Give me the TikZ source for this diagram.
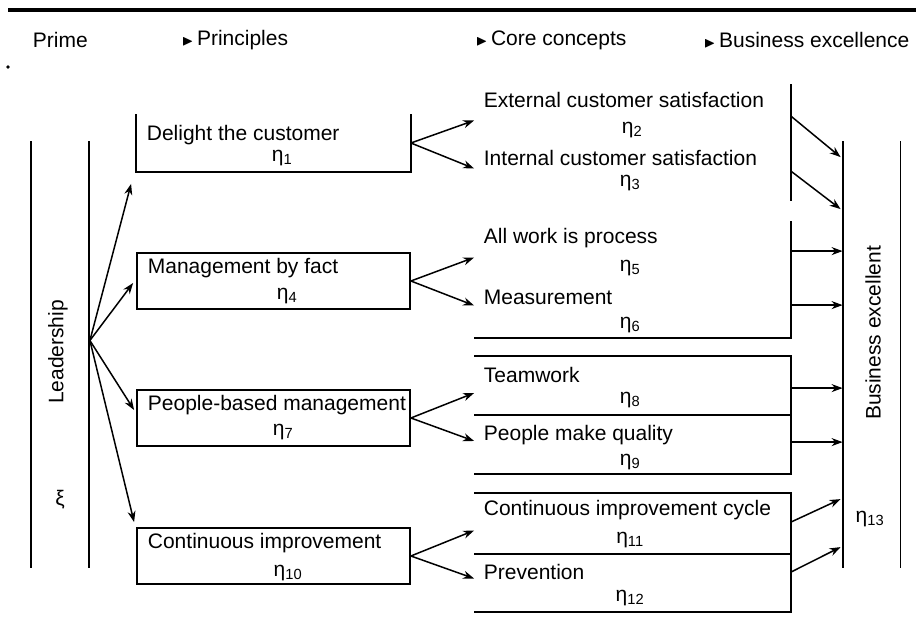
\documentclass[tikz,border=0pt]{standalone}
\usepackage{amssymb}
\usepackage{fontspec}
\setmainfont{Liberation Sans}
\usetikzlibrary{
  arrows.meta,
  positioning,
  calc
}
\newcommand{\etaidx}[1]{η\textsubscript{#1}}
\newcommand{\hdbullet}{{\fontsize{15}{15}\selectfont$\blacktriangleright$}\,}

\begin{document}
\begin{tikzpicture}[
  x=1pt,
  y=-1pt,
  line width=1.8pt,
  font=\fontsize{21}{24}\selectfont,
  mybox/.style={
    minimum width=273pt,
    minimum height=56pt,
    inner sep=0pt
    },
  mygroup/.style={
    minimum width=315pt,
    minimum height=#1,
    inner sep=0pt
    },
  mycolumn/.style={
    minimum width=56pt,
    minimum height=425pt,
    inner sep=0pt
    },
  mytext/.style={
    anchor=west,
    inner sep=0pt
    },
  mylabel/.style={
    inner sep=0pt
    },
  myarrow/.style={
    -{Stealth[length=11pt,width=8pt]},
    line width=1.5pt
    }
]
\useasboundingbox (0,0) rectangle (916,631);
\draw[line width=4pt] (8,10) -- (916,10);
\fill (8,67) circle (1.8pt);

% headings
\node[mytext] (hd-prime) at (32,40) {Prime};
\node[mytext] (hd-princ) at (181,40) {\hdbullet Principles};
\node[mytext] (hd-core) at (475,40) {\hdbullet Core concepts};
\node[mytext] (hd-bex) at (703,40) {\hdbullet Business excellence};

% leadership and business excellence
\node[mycolumn] (lead) at (60,354.5) {};
\draw (lead.north west) -- (lead.south west);
\draw (lead.north east) -- (lead.south east);
\node[mylabel,rotate=90] (lead-t) at (58,352) {Leadership};
\node[mylabel] (lead-xi) at (60,500) {ξ};

\node[mycolumn] (bex) at (871.5,354.5) {};
\draw (bex.north west) -- (bex.south west);
\draw (bex.north east) -- (bex.south east);
\node[mylabel,rotate=90] (bex-t) at (873,333) {Business excellent};
\node[mylabel] (bex-eta) at (870,519) {\etaidx{13}};

% principles
\node[mybox] (delight) at (273.5,143) {};
\draw (delight.north west) -- (delight.south west) -- (delight.south east) -- (delight.north east);
\node[mybox,draw] (mgmt) at (273.5,281) {};
\node[mybox,draw] (people) at (273.5,418) {};
\node[mybox,draw] (cont) at (273.5,556) {};

\node[mytext] (delight-t) at (146,135) {Delight the customer};
\node[mylabel] (delight-eta) at (282,158) {\etaidx{1}};
\node[mytext] (mgmt-t) at (147,268) {Management by fact};
\node[mylabel] (mgmt-eta) at (287,296) {\etaidx{4}};
\node[mytext] (people-t) at (147,405) {People-based management};
\node[mylabel] (people-eta) at (283,432) {\etaidx{7}};
\node[mytext] (cont-t) at (147,543) {Continuous improvement};
\node[mylabel] (cont-eta) at (288,573) {\etaidx{10}};

% core concepts
\node[mygroup=115pt] (cs1) at (632.5,142.5) {};
\draw (cs1.north east) -- (cs1.south east);
\node[mygroup=115pt] (cs2) at (632.5,279.5) {};
\draw (cs2.north east) -- (cs2.south east) -- (cs2.south west);
\node[mygroup=116pt] (cs3) at (632.5,415) {};
\draw (cs3.north west) -- (cs3.north east) -- (cs3.south east) -- (cs3.south west);
\draw (cs3.west) -- (cs3.east);
\node[mygroup=117pt] (cs4) at (632.5,552.5) {};
\draw (cs4.north west) -- (cs4.north east) -- (cs4.south east) -- (cs4.south west);
\draw ($(cs4.west)+(0,1.5)$) -- ($(cs4.east)+(0,1.5)$);

\node[mytext] (ext-t) at (483,100) {External customer satisfaction};
\node[mylabel] (ext-eta) at (632,130) {\etaidx{2}};
\node[mytext] (int-t) at (483,158) {Internal customer satisfaction};
\node[mylabel] (int-eta) at (630,183) {\etaidx{3}};
\node[mytext] (proc-t) at (483,238) {All work is process};
\node[mylabel] (proc-eta) at (630,268) {\etaidx{5}};
\node[mytext] (meas-t) at (483,297) {Measurement};
\node[mylabel] (meas-eta) at (630,325) {\etaidx{6}};
\node[mytext] (team-t) at (483,375) {Teamwork};
\node[mylabel] (team-eta) at (630,400) {\etaidx{8}};
\node[mytext] (qual-t) at (483,435) {People make quality};
\node[mylabel] (qual-eta) at (630,462) {\etaidx{9}};
\node[mytext] (cycle-t) at (483,510) {Continuous improvement cycle};
\node[mylabel] (cycle-eta) at (630,540) {\etaidx{11}};
\node[mytext] (prev-t) at (483,572) {Prevention};
\node[mylabel] (prev-eta) at (630,598) {\etaidx{12}};

% leadership -> principles
\coordinate (lead-out) at ($(lead.east)+(1,-14)$);
\draw[myarrow] (lead-out) -- ($(delight.south west)+(-5,12)$);
\draw[myarrow] (lead-out) -- ($(mgmt.west)+(-3,2)$);
\draw[myarrow] (lead-out) -- ($(people.west)+(-2,-8)$);
\draw[myarrow] (lead-out) -- ($(cont.north west)+(-2,-5)$);

% principles -> core concepts
\foreach \p/\c in {delight/cs1,mgmt/cs2,people/cs3,cont/cs4}{
  \draw[myarrow] (\p.east) -- ($(\c.west)+(0,-22)$);
  \draw[myarrow] (\p.east) -- ($(\c.west)+(0,26)$);
}

% core concepts -> business excellence
\draw[myarrow] ($(cs1.north east)+(0,32)$) -- ($(bex.north west)+(-2,16)$);
\draw[myarrow] ($(cs1.north east)+(0,87)$) -- ($(bex.north west)+(-2,68)$);
\foreach \c/\dy in {cs2/30,cs2/84,cs3/32,cs3/86}{
  \coordinate (from) at ($(\c.north east)+(0,\dy)$);
  \draw[myarrow] (from) -- (from -| bex.west);
}
\draw[myarrow] ($(cs4.north east)+(0,29)$) -- ($(bex.north west)+(-2,358)$);
\draw[myarrow] ($(cs4.north east)+(0,79)$) -- ($(bex.north west)+(-2,406)$);
\end{tikzpicture}
\end{document}
